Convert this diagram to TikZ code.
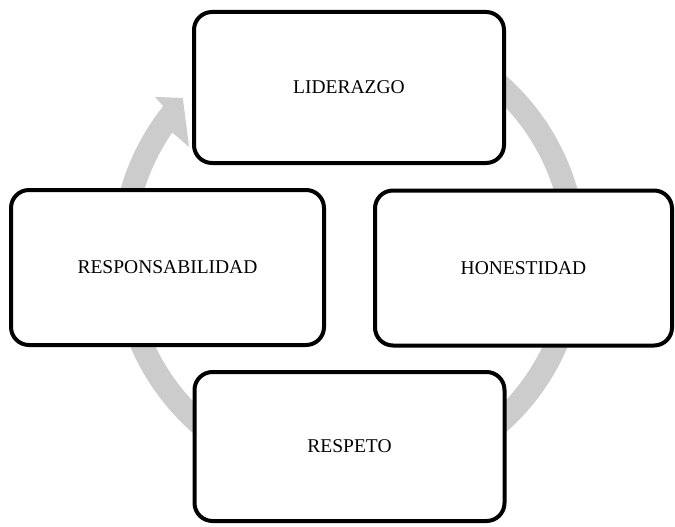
\documentclass[tikz,border=0pt]{standalone}
\usepackage{fontspec}
\setmainfont{Liberation Serif}
\begin{document}
\begin{tikzpicture}[x=1pt,y=1pt,
  valuebox/.style={draw=black, fill=white, line width=4pt, rounded corners=18pt,
    font=\fontsize{19.5}{23}\selectfont, inner sep=0pt},
  ringfill/.style={fill=black!20, draw=none}]
\useasboundingbox (0,0) rectangle (675,-527);

% circular arrow behind the boxes
\begin{scope}[shift={(349,-254)}]
  \fill[ringfill]
    (70:237.5) arc[start angle=70, end angle=-218.5, radius=237.5pt]
    -- (141:249.6) -- (136.8:228) -- (146.2:192.5)
    -- (145.5:214.5) arc[start angle=-214.5, end angle=70, radius=214.5pt]
    -- cycle;
\end{scope}

% the four values
\node[valuebox, minimum width=310pt, minimum height=151pt] (lid) at (349,-87.5) {LIDERAZGO};
\node[valuebox, minimum width=313pt, minimum height=155pt] (res) at (167.5,-267.5) {RESPONSABILIDAD};
\node[valuebox, minimum width=297pt, minimum height=155pt] (hon) at (523.5,-268) {HONESTIDAD};
\node[valuebox, minimum width=310pt, minimum height=149pt] (resp) at (349.5,-446.5) {RESPETO};
\end{tikzpicture}
\end{document}
